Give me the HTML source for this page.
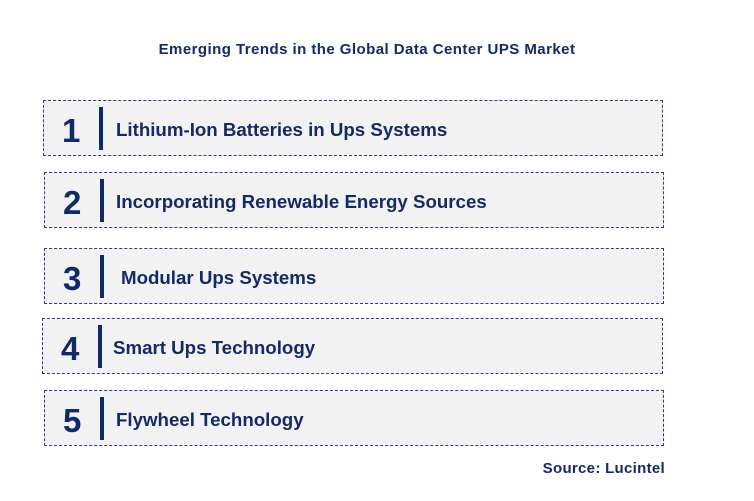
<!DOCTYPE html>
<html><head><meta charset="utf-8"><style>
body{margin:0;width:754px;height:501px;background:#fff;font-family:"Liberation Sans",Arial,sans-serif;position:relative;overflow:hidden}
.t{position:absolute;left:0;width:734px;top:41px;text-align:center;font-size:15px;letter-spacing:0.45px;font-weight:bold;color:#14296a}
.box{position:absolute;width:618px;height:54px;border:1px dashed #2b3f7a;background:#f2f2f2}
.n{position:absolute;left:18px;top:11px;font-size:33px;font-weight:bold;color:#0f2a66;line-height:38px}
.bar{position:absolute;left:55px;top:6px;width:4px;height:43px;background:#0f2a66}
.l{position:absolute;top:18px;font-size:18.7px;font-weight:bold;color:#142a66;line-height:22px;white-space:nowrap;letter-spacing:0px}
.s{position:absolute;right:89px;top:460px;font-size:15px;letter-spacing:0.3px;font-weight:bold;color:#14296a}
</style></head><body>
<div class="t">Emerging Trends in the Global Data Center UPS Market</div>
<div class="box" style="left:43px;top:100px"><div class="n">1</div><div class="bar"></div><div class="l" style="left:72px">Lithium-Ion Batteries in Ups Systems</div></div>
<div class="box" style="left:44px;top:172px"><div class="n">2</div><div class="bar"></div><div class="l" style="left:71px">Incorporating Renewable Energy Sources</div></div>
<div class="box" style="left:44px;top:248px"><div class="n">3</div><div class="bar"></div><div class="l" style="left:76px">Modular Ups Systems</div></div>
<div class="box" style="left:42px;top:318px;width:619px"><div class="n">4</div><div class="bar"></div><div class="l" style="left:70px">Smart Ups Technology</div></div>
<div class="box" style="left:44px;top:390px"><div class="n">5</div><div class="bar"></div><div class="l" style="left:71px">Flywheel Technology</div></div>
<div class="s">Source: Lucintel</div>
</body></html>
